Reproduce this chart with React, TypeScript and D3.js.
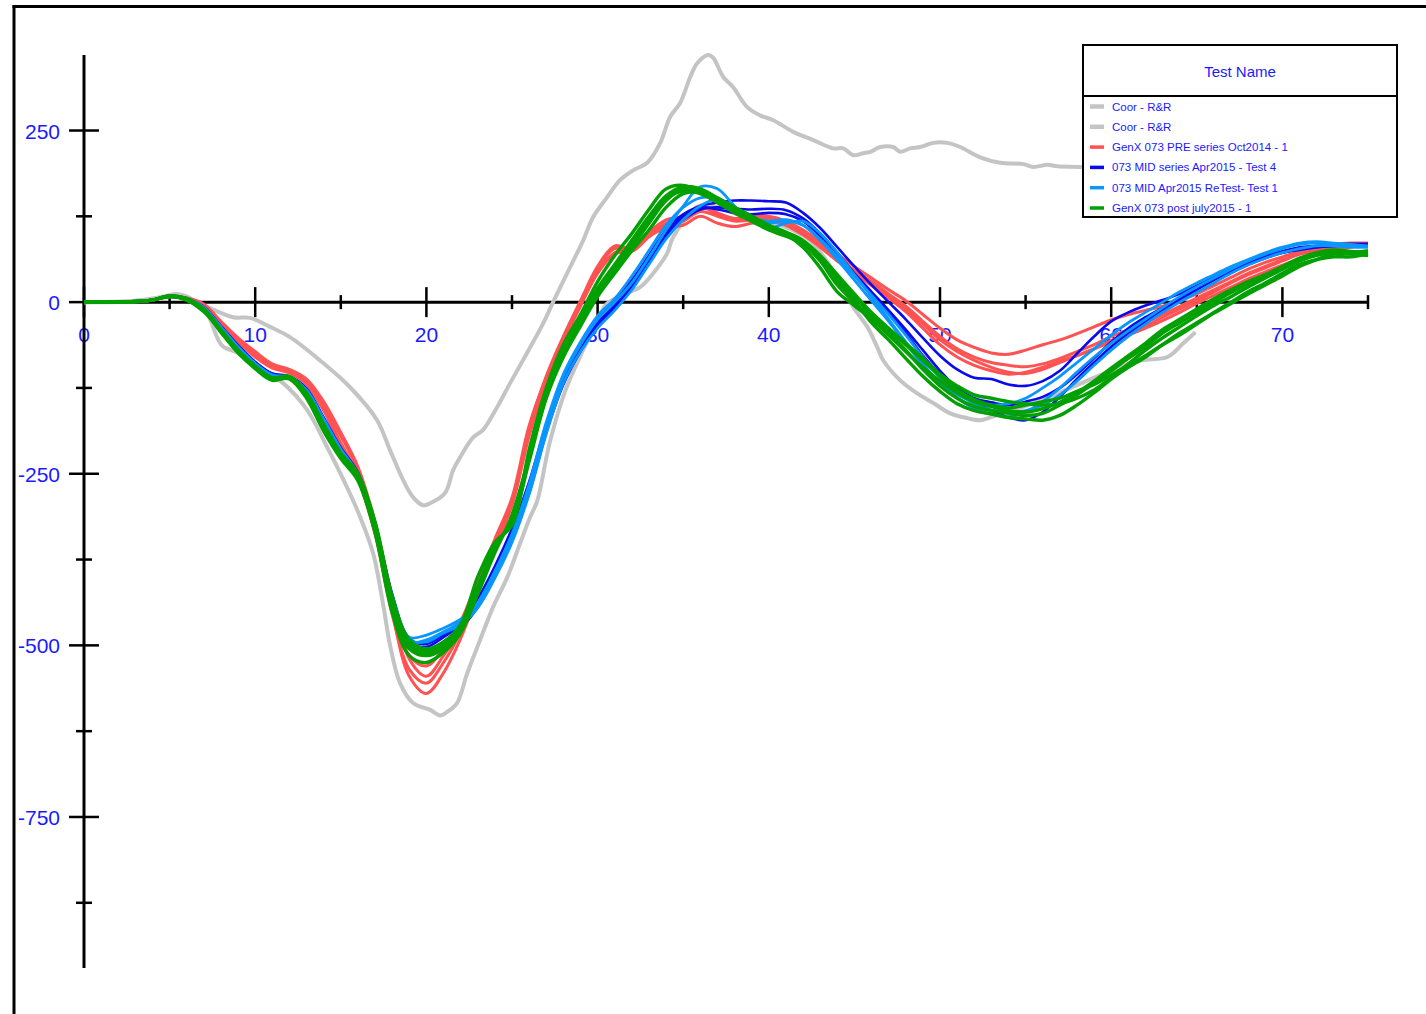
import React from "react";
import * as d3 from "d3";

// ---------- DATA ----------
const X_GRID = d3.range(0, 76); // x = 0..75

const GRAY_A_X = [0,2.69,4.44,5.32,6.54,8.71,9.7,10.87,12.03,13.79,15.54,17.12,17.88,18.64,19.22,19.81,20.22,21.09,21.56,21.97,22.73,23.31,24.13,24.89,25.88,26.82,27.4,28.22,29.16,29.74,30.56,31.32,32.08,32.9,33.66,34.24,34.82,35.41,35.82,36.46,36.75,37.34,37.92,38.74,39.5,40.26,41.43,42.6,43.76,44.35,44.93,45.52,45.93,46.51,47.27,47.68,48.26,48.85,49.61,50.42,51.18,52.35,53.52,54.87,55.45,56.27,56.85,58.2,59.4,62,66,70,75];
const GRAY_A_Y = [0,1.5,6,9,0,-22,-23,-36,-51,-85,-124,-172,-216,-259,-284,-296,-293,-278,-245,-226,-197,-186,-153,-118,-74,-31,0,42,90,124,153,178,192,203,232,270,290,328,348,360,356,328,313,284,272,265,248,236,224,224,214,217,219,226,226,219,224,226,232,232,226,211,203,201,197,200,198,197,195,192,188,185,182];

const GRAY_B_X = [0,2.69,4.44,5.38,6.19,7.17,8.05,9.0,10.0,11.0,11.63,13.03,14.2,15.37,16.13,16.89,17.47,17.88,18.46,19.22,20.22,20.8,21.21,21.79,22.38,23.14,23.9,24.72,25.48,26.06,26.47,27.2,28.1,29.0,29.8,30.56,31.73,32.49,33.25,34.06,34.42,36.0,38.3,40.7,42.4,43.9,44.93,45.75,46.34,46.69,47.68,48.67,49.61,50.6,51.6,52.35,52.94,55.9,59.4,61.7,63.28,64.21,64.92];
const GRAY_B_Y = [0,1,7,12,6,-16,-63,-74,-92,-108,-118,-157,-211,-270,-313,-366,-440,-500,-555,-584,-594,-602,-597,-584,-541,-492,-444,-401,-351,-313,-290,-205,-130,-78,-38,-2,13,22,42,71,95,141,127,112,90,40,-7,-36,-66,-85,-114,-133,-147,-162,-169,-172,-168,-143,-106,-85,-80,-60,-44];

const RED_1 = [0,0,0,1,3,9,6,-4,-30,-55,-76,-93,-100,-115,-150,-195,-245,-330,-450,-545,-570,-540,-490,-425,-360,-295,-190,-112,-52,0,48,78,74,95,112,118,132,125,118,120,122,115,100,82,62,45,28,10,-10,-32,-55,-72,-85,-95,-102,-104,-98,-88,-78,-68,-56,-45,-35,-22,-10,2,15,28,40,50,60,70,76,80,84,84];
const RED_2 = [0,0,0,1,3,9,6,-3,-28,-52,-72,-90,-98,-112,-145,-190,-240,-320,-430,-520,-545,-515,-475,-415,-352,-290,-185,-108,-50,2,52,82,78,98,115,122,138,128,120,125,125,118,105,88,70,52,35,18,2,-18,-38,-55,-66,-74,-76,-70,-62,-55,-46,-36,-26,-18,-12,-6,2,12,24,36,48,58,66,74,80,84,86,86];
const RED_3 = [0,0,0,1,3,9,5,-6,-33,-58,-80,-96,-103,-118,-155,-205,-252,-335,-440,-515,-530,-505,-465,-405,-345,-285,-180,-110,-55,-3,44,72,78,96,108,112,125,115,110,115,118,112,98,80,60,42,24,6,-14,-38,-62,-80,-92,-100,-105,-102,-95,-86,-78,-68,-58,-48,-38,-27,-15,-2,10,22,34,44,54,62,70,76,80,82];
const RED_4 = [0,0,0,1,3,9,5,-5,-32,-57,-78,-94,-102,-120,-158,-210,-258,-338,-455,-535,-555,-525,-480,-415,-350,-295,-195,-118,-58,-6,42,70,76,102,120,125,140,130,122,126,124,116,102,84,64,46,30,12,-6,-28,-50,-68,-80,-88,-92,-94,-90,-82,-72,-62,-50,-40,-30,-18,-6,6,18,30,42,52,62,70,76,80,82,82];

const BLUE_1 = [0,0,0,1,3,9,5,-8,-36,-64,-88,-105,-110,-128,-170,-215,-250,-325,-430,-495,-502,-488,-470,-440,-395,-340,-270,-185,-115,-68,-30,-5,25,62,100,125,140,145,148,148,147,145,130,108,80,52,25,0,-25,-52,-78,-98,-110,-112,-120,-122,-115,-100,-75,-50,-28,-15,-5,3,12,24,36,48,58,68,74,80,82,84,85,85];
const BLUE_2 = [0,0,0,1,3,8,4,-9,-38,-66,-90,-107,-111,-130,-173,-218,-252,-330,-440,-505,-510,-495,-475,-445,-400,-345,-278,-190,-120,-72,-35,-8,22,58,96,120,135,138,136,135,136,134,122,100,72,42,15,-12,-40,-70,-100,-125,-145,-158,-168,-172,-160,-138,-112,-88,-65,-45,-28,-12,3,18,32,44,55,64,72,76,80,82,82,82];
const BLUE_3 = [0,0,0,1,3,9,5,-7,-35,-63,-87,-104,-108,-126,-168,-212,-248,-322,-425,-490,-498,-484,-465,-432,-385,-330,-262,-178,-108,-60,-22,3,32,68,105,128,138,135,130,128,130,128,118,96,68,40,12,-15,-45,-78,-105,-125,-140,-146,-150,-145,-138,-125,-105,-82,-58,-38,-22,-8,6,20,34,46,56,65,72,77,80,82,83,84];

const LBLUE_1 = [0,0,0,1,3,9,5,-8,-37,-66,-90,-107,-110,-130,-172,-216,-250,-322,-428,-488,-485,-475,-462,-440,-398,-345,-272,-180,-108,-62,-25,0,28,65,105,140,168,165,140,118,108,115,118,100,72,40,8,-25,-58,-90,-118,-140,-155,-163,-167,-160,-145,-125,-102,-80,-60,-42,-25,-8,8,22,35,48,60,70,78,84,86,84,82,80];
const LBLUE_2 = [0,0,0,1,3,8,4,-9,-38,-67,-91,-108,-111,-131,-174,-218,-252,-328,-436,-495,-492,-480,-466,-438,-392,-338,-265,-175,-105,-58,-20,5,38,75,112,138,152,150,132,122,118,120,112,90,62,32,2,-28,-60,-92,-118,-135,-145,-150,-148,-140,-125,-108,-88,-68,-48,-30,-15,0,15,28,40,52,62,72,80,86,88,86,84,82];
const LBLUE_3 = [0,0,0,1,3,9,5,-8,-36,-65,-89,-106,-109,-128,-170,-214,-250,-325,-432,-492,-495,-482,-470,-445,-402,-350,-280,-192,-118,-72,-38,-12,18,55,92,120,140,150,138,122,115,118,112,92,66,38,10,-18,-48,-80,-110,-132,-148,-157,-160,-158,-150,-135,-115,-92,-70,-50,-32,-15,0,14,28,42,54,64,72,78,82,82,80,80];

const GREEN_1 = [0,0,0,1,3,9,5,-12,-44,-74,-97,-114,-110,-135,-182,-222,-252,-325,-430,-492,-505,-495,-470,-400,-350,-325,-215,-125,-62,-18,30,68,100,135,165,170,160,145,132,120,108,98,80,50,15,-5,-25,-48,-72,-95,-115,-132,-145,-152,-158,-160,-155,-146,-132,-115,-96,-78,-60,-40,-25,-10,5,18,30,40,52,64,72,76,74,72];
const GREEN_2 = [0,0,0,1,3,8,3,-14,-42,-72,-95,-112,-112,-140,-188,-228,-260,-335,-445,-505,-515,-505,-480,-425,-365,-310,-225,-135,-78,-32,12,48,85,120,150,162,158,145,130,118,105,96,85,60,25,0,-22,-45,-70,-98,-122,-140,-152,-158,-162,-165,-162,-150,-135,-118,-100,-82,-65,-45,-30,-15,0,14,27,38,50,62,70,74,73,72];
const GREEN_3 = [0,0,0,1,3,9,4,-10,-40,-70,-93,-110,-108,-132,-178,-220,-250,-320,-430,-498,-512,-500,-475,-415,-355,-320,-232,-140,-80,-35,8,42,75,105,138,158,160,150,138,125,112,100,86,62,30,2,-30,-55,-82,-108,-130,-148,-158,-163,-168,-170,-172,-165,-150,-132,-112,-95,-80,-62,-45,-30,-15,0,15,28,42,55,62,66,66,70];
const GREEN_4 = [0,0,0,1,3,8,3,-12,-43,-73,-96,-113,-111,-138,-184,-225,-256,-330,-440,-500,-508,-496,-474,-418,-358,-318,-228,-138,-76,-30,14,46,80,115,148,165,162,148,134,122,110,100,88,64,34,8,-18,-40,-62,-85,-108,-128,-142,-150,-154,-150,-145,-140,-130,-120,-106,-92,-78,-62,-48,-32,-16,-2,12,25,38,52,62,70,72,75];
const GREEN_5 = [0,0,0,1,3,9,5,-11,-41,-71,-94,-111,-109,-136,-183,-224,-258,-335,-452,-515,-525,-510,-482,-422,-360,-315,-225,-132,-72,-25,20,55,90,125,155,168,165,152,138,125,112,102,90,68,40,12,-15,-38,-60,-82,-105,-122,-135,-140,-145,-148,-150,-148,-140,-128,-110,-90,-70,-52,-36,-20,-5,8,22,35,48,60,68,72,70,68];

const Y_MAJOR = [250, 0, -250, -500, -750];
const Y_MINOR = [125, -125, -375, -625, -875];
const X_MAJOR = [0, 10, 20, 30, 40, 50, 60, 70];
const X_MINOR = [5, 15, 25, 35, 45, 55, 65, 75];

const LEGEND_TITLE = "Test Name";
const LEGEND_LABELS = [
  "Coor - R&R",
  "Coor - R&R",
  "GenX 073 PRE series Oct2014 - 1",
  "073 MID series Apr2015 - Test 4",
  "073 MID Apr2015 ReTest- Test 1",
  "GenX 073 post july2015 - 1",
];
const COLORS = ["#c4c4c4", "#c4c4c4", "#ff5252", "#0a0aee", "#0a96ff", "#03a003"];

const GROUPS = [
  { color: COLORS[2], width: 3, series: [RED_1, RED_2, RED_3, RED_4] },
  { color: COLORS[3], width: 2.6, series: [BLUE_1, BLUE_2, BLUE_3] },
  { color: COLORS[4], width: 2.8, series: [LBLUE_1, LBLUE_2, LBLUE_3] },
  { color: COLORS[5], width: 3.4, series: [GREEN_1, GREEN_2, GREEN_3, GREEN_4, GREEN_5] },
];

const TEXT_BLUE = "#1a1aff";
const FONT = "'Liberation Sans', Arial, Helvetica, sans-serif";

export default function App() {
  const W = 1426, H = 1014;
  const x = d3.scaleLinear().domain([0, 75]).range([84, 1368]);
  const y = d3.scaleLinear().domain([-970, 360]).range([968, 55]);

  const lineXY = d3
    .line<[number, number]>()
    .x((d) => x(d[0]))
    .y((d) => y(d[1]))
    .curve(d3.curveCatmullRom.alpha(0.5));

  const pts = (xs: number[], ys: number[]) => xs.map((v, i) => [v, ys[i]] as [number, number]);

  const y0 = y(0);
  const lx = 1083, ly = 45, lw = 314, lh = 172;

  return (
    <svg
      width={W}
      height={H}
      style={{ position: "absolute", left: 0, top: 0, background: "#fff" }}
      fontFamily={FONT}
    >
      <rect x={0} y={0} width={W} height={H} fill="#fff" />
      {/* frame */}
      <line x1={14} y1={5} x2={14} y2={H} stroke="#000" strokeWidth={3} />
      <line x1={12.5} y1={6.5} x2={W} y2={6.5} stroke="#000" strokeWidth={3} />

      {/* tick labels */}
      {Y_MAJOR.map((v) => (
        <text key={"yl" + v} x={60} y={y(v) + 8} fontSize={21} fill={TEXT_BLUE} textAnchor="end">
          {v}
        </text>
      ))}
      {X_MAJOR.map((v) => (
        <text key={"xl" + v} x={x(v)} y={y0 + 40} fontSize={21} fill={TEXT_BLUE} textAnchor="middle">
          {v}
        </text>
      ))}

      {/* axes */}
      <line x1={x(0)} y1={y(360)} x2={x(0)} y2={y(-970)} stroke="#000" strokeWidth={3} />
      <line x1={x(0)} y1={y0} x2={x(75)} y2={y0} stroke="#000" strokeWidth={3} />
      {Y_MAJOR.map((v) => (
        <line key={"yt" + v} x1={x(0) - 15} x2={x(0) + 15} y1={y(v)} y2={y(v)} stroke="#000" strokeWidth={2.5} />
      ))}
      {Y_MINOR.map((v) => (
        <line key={"ym" + v} x1={x(0) - 8} x2={x(0) + 8} y1={y(v)} y2={y(v)} stroke="#000" strokeWidth={2.5} />
      ))}
      {X_MAJOR.map((v) => (
        <line key={"xt" + v} x1={x(v)} x2={x(v)} y1={y0 - 15} y2={y0 + 15} stroke="#000" strokeWidth={2.5} />
      ))}
      {X_MINOR.map((v) => (
        <line key={"xm" + v} x1={x(v)} x2={x(v)} y1={y0 - 7} y2={y0 + 7} stroke="#000" strokeWidth={2.5} />
      ))}

      {/* gray reference curves */}
      <path d={lineXY(pts(GRAY_A_X, GRAY_A_Y)) || ""} fill="none" stroke={COLORS[0]} strokeWidth={4} strokeLinejoin="round" />
      <path d={lineXY(pts(GRAY_B_X, GRAY_B_Y)) || ""} fill="none" stroke={COLORS[1]} strokeWidth={4} strokeLinejoin="round" />

      {/* colored curves */}
      {GROUPS.map((g, gi) =>
        g.series.map((s, si) => (
          <path
            key={gi + "-" + si}
            d={lineXY(pts(X_GRID, s)) || ""}
            fill="none"
            stroke={g.color}
            strokeWidth={g.width}
            strokeLinejoin="round"
          />
        ))
      )}

      {/* legend */}
      <rect x={lx} y={ly} width={lw} height={lh} fill="#fff" stroke="#000" strokeWidth={2} />
      <line x1={lx} x2={lx + lw} y1={96} y2={96} stroke="#000" strokeWidth={2} />
      <text x={lx + lw / 2} y={77} fontSize={15} fill={TEXT_BLUE} textAnchor="middle">
        {LEGEND_TITLE}
      </text>
      {LEGEND_LABELS.map((lab, i) => {
        const cy = 106.5 + i * 20.3;
        return (
          <g key={"lg" + i}>
            <line x1={1090} x2={1104} y1={cy} y2={cy} stroke={COLORS[i]} strokeWidth={i < 2 ? 4.5 : 3.5} />
            <text x={1112} y={cy + 4} fontSize={11.5} fill={TEXT_BLUE}>
              {lab}
            </text>
          </g>
        );
      })}
    </svg>
  );
}
